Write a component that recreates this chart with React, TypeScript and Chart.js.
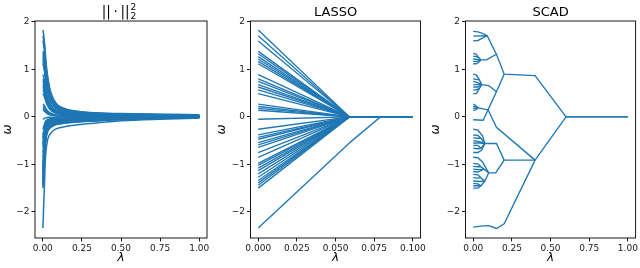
import React, { useEffect, useRef } from 'react';
import { Chart, registerables } from 'chart.js';

Chart.register(...registerables);

const BLUE = '#1f77b4';

// coefficient values at lambda = 0
const coefAtZero = [
  1.83, 1.71, 1.6, 1.38, 1.33, 1.27, 1.22, 1.17, 1.12, 0.89, 0.8, 0.75, 0.68, 0.63, 0.57, 0.49,
  0.27, 0.22, 0.18, 0.14, -0.05, -0.26, -0.38, -0.43, -0.47, -0.54, -0.59, -0.64, -0.75, -0.85,
  -0.98, -1.02, -1.08, -1.13, -1.2, -1.27, -1.34, -1.39, -1.44, -1.5, -2.34,
];

const ridgeLambda = [0, 0.002, 0.005, 0.01, 0.015, 0.02, 0.03, 0.04, 0.05, 0.07, 0.1, 0.15, 0.2, 0.3, 0.5, 0.75, 1.0];
const ridgePosShrink = [1, 0.99, 0.95, 0.87, 0.77, 0.64, 0.48, 0.37, 0.29, 0.2, 0.13, 0.09, 0.07, 0.05, 0.038, 0.03, 0.025];
const ridgeNegShrink = [1, 0.95, 0.82, 0.63, 0.42, 0.31, 0.21, 0.17, 0.15, 0.12, 0.1, 0.085, 0.075, 0.06, 0.035, 0.02, 0.01];

// lasso: most coefficients reach zero at the same lambda
const lassoLambda = [0, 0.059, 0.1];
const lassoOutlierPath = [[0, -2.34], [0.06, -0.52], [0.079, 0], [0.1, 0]];

// SCAD paths [lambda, omega]
const scadPaths = [
  [[0, 1.8], [0.03, 1.79], [0.06, 1.76], [0.09, 1.71], [0.15, 1.32], [0.2, 0.9], [0.4, 0.87], [0.6, 0], [1, 0]],
  [[0, 1.7], [0.09, 1.71]],
  [[0, 1.6], [0.03, 1.61], [0.06, 1.66], [0.09, 1.71]],
  [[0, 1.34], [0.02, 1.32], [0.035, 1.25], [0.05, 1.2], [0.085, 1.2], [0.15, 1.32]],
  [[0, 1.28], [0.02, 1.27], [0.035, 1.25]],
  [[0, 1.22], [0.05, 1.2]],
  [[0, 1.17], [0.025, 1.17], [0.05, 1.2]],
  [[0, 1.12], [0.02, 1.12], [0.035, 1.15], [0.05, 1.2]],
  [[0, 0.9], [0.02, 0.88], [0.04, 0.78], [0.055, 0.68], [0.1, 0.66], [0.15, 0.53]],
  [[0, 0.8], [0.02, 0.79], [0.04, 0.78]],
  [[0, 0.75], [0.03, 0.72], [0.055, 0.68]],
  [[0, 0.68], [0.055, 0.68]],
  [[0, 0.63], [0.03, 0.63], [0.055, 0.68]],
  [[0, 0.57], [0.02, 0.57], [0.04, 0.6], [0.055, 0.68]],
  [[0, 0.49], [0.02, 0.49], [0.04, 0.6]],
  [[0, 0.27], [0.015, 0.24], [0.032, 0.19], [0.096, 0.15], [0.15, 0.53], [0.2, 0.9]],
  [[0, 0.22], [0.015, 0.21], [0.032, 0.19]],
  [[0, 0.18], [0.032, 0.19]],
  [[0, 0.14], [0.015, 0.15], [0.032, 0.19]],
  [[0, -0.06], [0.064, -0.07], [0.096, 0.15], [0.15, -0.22], [0.4, -0.91]],
  [[0, -0.26], [0.03, -0.28], [0.06, -0.4], [0.075, -0.56], [0.15, -0.56], [0.2, -0.91], [0.4, -0.91], [0.6, 0], [1, 0]],
  [[0, -0.38], [0.03, -0.39], [0.05, -0.45], [0.075, -0.56]],
  [[0, -0.44], [0.03, -0.45], [0.05, -0.45]],
  [[0, -0.5], [0.04, -0.52], [0.075, -0.56]],
  [[0, -0.55], [0.04, -0.55], [0.075, -0.56]],
  [[0, -0.6], [0.03, -0.6], [0.05, -0.66], [0.075, -0.56]],
  [[0, -0.66], [0.03, -0.67], [0.05, -0.66]],
  [[0, -0.75], [0.03, -0.75], [0.055, -0.7], [0.075, -0.56]],
  [[0, -0.85], [0.03, -0.86], [0.06, -0.95], [0.1, -1.18], [0.145, -1.18], [0.2, -0.91]],
  [[0, -0.98], [0.03, -0.99], [0.05, -1.05], [0.07, -1.1], [0.1, -1.18]],
  [[0, -1.04], [0.03, -1.05], [0.05, -1.05]],
  [[0, -1.1], [0.04, -1.11], [0.07, -1.1]],
  [[0, -1.15], [0.03, -1.16], [0.07, -1.1]],
  [[0, -1.21], [0.03, -1.22], [0.05, -1.28], [0.075, -1.35], [0.1, -1.18]],
  [[0, -1.28], [0.03, -1.29], [0.05, -1.28]],
  [[0, -1.35], [0.04, -1.36], [0.075, -1.35]],
  [[0, -1.4], [0.03, -1.41], [0.05, -1.45], [0.075, -1.35]],
  [[0, -1.45], [0.03, -1.45], [0.05, -1.45]],
  [[0, -1.5], [0.03, -1.5], [0.05, -1.45]],
  [[0, -2.32], [0.05, -2.3], [0.1, -2.29], [0.15, -2.35], [0.2, -2.25], [0.4, -0.91]],
];

const yTicks = [-2, -1, 0, 1, 2];
const xTicksUnit = [0, 0.25, 0.5, 0.75, 1.0];
const xTicksLasso = [0, 0.025, 0.05, 0.075, 0.1];
const yRange = [-2.55, 2.02];
const xRangeUnit = [-0.05, 1.05];
const xRangeLasso = [-0.005, 0.105];

const lineDs = (pts: { x: number; y: number }[], extra: any = {}) => ({
  data: pts,
  borderColor: BLUE,
  backgroundColor: BLUE,
  borderWidth: 1.35,
  pointRadius: 0,
  fill: false,
  tension: 0,
  ...extra,
});

function ridgeDatasets() {
  return coefAtZero.map((c) => {
    const shrink = c >= 0 ? ridgePosShrink : ridgeNegShrink;
    return lineDs(
      ridgeLambda.map((l, i) => ({ x: l, y: c * shrink[i] })),
      { cubicInterpolationMode: 'monotone', borderWidth: 1.5 }
    );
  });
}

function lassoDatasets() {
  const main = coefAtZero.slice(0, coefAtZero.length - 1).map((c) =>
    lineDs([
      { x: lassoLambda[0], y: c },
      { x: lassoLambda[1], y: 0 },
      { x: lassoLambda[2], y: 0 },
    ])
  );
  main.push(lineDs(lassoOutlierPath.map(([x, y]) => ({ x, y }))));
  return main;
}

function scadDatasets() {
  return scadPaths.map((p) => lineDs(p.map(([x, y]) => ({ x, y }))));
}

const FONT = '"DejaVu Sans", sans-serif';

type Panel = {
  left: number;
  width: number;
  axisW: number;
  padRight: number;
  title: string;
  xRange: number[];
  xTicks: number[];
  xDec: number;
  datasets: () => any[];
};

const panels: Panel[] = [
  { left: 0, width: 214, axisW: 35, padRight: 7, title: 'ridge', xRange: xRangeUnit, xTicks: xTicksUnit, xDec: 2, datasets: ridgeDatasets },
  { left: 214, width: 214, axisW: 36.5, padRight: 6, title: 'LASSO', xRange: xRangeLasso, xTicks: xTicksLasso, xDec: 3, datasets: lassoDatasets },
  { left: 428, width: 212, axisW: 37.5, padRight: 2, title: 'SCAD', xRange: xRangeUnit, xTicks: xTicksUnit, xDec: 2, datasets: scadDatasets },
];

const framePlugin = {
  id: 'frameTitle',
  afterDraw(chart: any, _args: any, opts: any) {
    const { ctx, chartArea } = chart;
    ctx.save();
    ctx.strokeStyle = '#000';
    ctx.lineWidth = 0.9;
    ctx.strokeRect(chartArea.left, chartArea.top, chartArea.right - chartArea.left, chartArea.bottom - chartArea.top);
    const cx = (chartArea.left + chartArea.right) / 2;
    ctx.fillStyle = '#000';
    ctx.textBaseline = 'alphabetic';
    if (opts.title === 'ridge') {
      ctx.font = `13.5px ${FONT}`;
      const main = '||\u2009·\u2009||';
      const w = ctx.measureText(main).width;
      ctx.font = `9px ${FONT}`;
      const sw = ctx.measureText('2').width;
      const x0 = cx - 2 - (w + sw + 1) / 2;
      ctx.font = `13.5px ${FONT}`;
      ctx.textAlign = 'left';
      ctx.fillText(main, x0, 16);
      ctx.font = `9px ${FONT}`;
      ctx.fillText('2', x0 + w + 1, 9.5);
      ctx.fillText('2', x0 + w + 1, 19);
    } else {
      ctx.font = `13px ${FONT}`;
      ctx.textAlign = 'center';
      ctx.fillText(opts.title, cx, 16);
    }
    ctx.restore();
  },
};

function PanelChart({ p }: { p: Panel }) {
  const ref = useRef<HTMLCanvasElement>(null);
  useEffect(() => {
    if (!ref.current) return;
    const tickFont = { family: FONT, size: 9 };
    const chart = new Chart(ref.current, {
      type: 'line',
      data: { datasets: p.datasets() },
      options: {
        animation: false,
        responsive: false,
        devicePixelRatio: 1,
        layout: { padding: { top: 21, right: p.padRight, left: 0, bottom: 0 } },
        plugins: {
          legend: { display: false },
          tooltip: { enabled: false },
          frameTitle: { title: p.title },
        } as any,
        scales: {
          x: {
            type: 'linear',
            min: p.xRange[0],
            max: p.xRange[1],
            afterBuildTicks: (s: any) => {
              s.ticks = p.xTicks.map((v) => ({ value: v }));
            },
            afterFit: (s: any) => {
              s.height = 30;
            },
            ticks: {
              callback: (v: any) => Number(v).toFixed(p.xDec),
              font: tickFont,
              color: '#1a1a1a',
              padding: 2,
              maxRotation: 0,
              autoSkip: false,
            },
            grid: { drawOnChartArea: false, drawTicks: true, tickLength: 3.5, color: '#000', lineWidth: 0.9 },
            border: { display: false },
            title: {
              display: true,
              text: 'λ',
              font: { family: FONT, size: 12, style: 'italic' },
              color: '#000',
              padding: { top: 0, bottom: 2.5 },
            },
          },
          y: {
            type: 'linear',
            min: yRange[0],
            max: yRange[1],
            afterBuildTicks: (s: any) => {
              s.ticks = yTicks.map((v) => ({ value: v }));
            },
            afterFit: (s: any) => {
              s.width = p.axisW;
            },
            ticks: {
              callback: (v: any) => (v < 0 ? '−' : '') + Math.abs(v),
              font: tickFont,
              color: '#1a1a1a',
              padding: 2,
              autoSkip: false,
            },
            grid: { drawOnChartArea: false, drawTicks: true, tickLength: 3.5, color: '#000', lineWidth: 0.9 },
            border: { display: false },
            title: {
              display: true,
              text: 'ω',
              font: { family: FONT, size: 12, style: 'italic' },
              color: '#000',
              padding: { top: 1, bottom: 0 },
            },
          },
        },
      } as any,
      plugins: [framePlugin],
    });
    return () => chart.destroy();
  }, [p]);
  return (
    <canvas
      ref={ref}
      width={p.width}
      height={268}
      style={{ position: 'absolute', left: p.left, top: 0, width: p.width, height: 268 }}
    />
  );
}

export default function App() {
  return (
    <div style={{ position: 'fixed', left: 0, top: 0, width: 640, height: 268, background: '#fff' }}>
      {panels.map((p) => (
        <PanelChart key={p.title} p={p} />
      ))}
    </div>
  );
}
